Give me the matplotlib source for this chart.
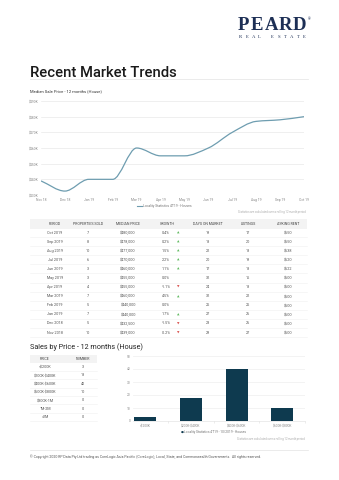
import matplotlib
matplotlib.use("Agg")
import matplotlib.pyplot as plt
import numpy as np
from matplotlib.path import Path
from matplotlib.patches import PathPatch, Rectangle
from matplotlib.lines import Line2D

# ---------------- data ----------------
months = ["Nov 18", "Dec 18", "Jan 19", "Feb 19", "Mar 19", "Apr 19",
          "May 19", "Jun 19", "Jul 19", "Aug 19", "Sep 19", "Oct 19"]
median_price = [439000, 432500, 440000, 440000, 460000, 455000,
                455000, 460000, 470000, 477000, 478000, 480000]
y_ticks = [430000, 440000, 450000, 460000, 470000, 480000, 490000]

table_header = ["PERIOD", "PROPERTIES SOLD", "MEDIAN PRICE", "GROWTH",
                "DAYS ON MARKET", "LISTINGS", "ASKING RENT"]
periods = ["Oct 2019", "Sep 2019", "Aug 2019", "Jul 2019", "Jun 2019", "May 2019",
           "Apr 2019", "Mar 2019", "Feb 2019", "Jan 2019", "Dec 2018", "Nov 2018"]
props_sold = [7, 8, 10, 6, 3, 3, 4, 7, 5, 7, 5, 10]
median_str = ["$480,000", "$478,000", "$477,000", "$470,000", "$460,000", "$455,000",
              "$455,000", "$460,000", "$440,000", "$440,000", "$432,500", "$439,000"]
growth = ["0.4%", "0.2%", "1.5%", "2.2%", "1.1%", "0.0%",
          "-1.1%", "4.5%", "0.0%", "1.7%", "-1.5%", "-0.2%"]
days_on_market = [19, 18, 22, 20, 17, 32, 24, 32, 25, 27, 28, 29]
listings = [17, 20, 18, 19, 18, 15, 18, 22, 25, 26, 26, 27]
asking_rent = ["$650", "$650", "$638", "$620", "$622", "$600",
               "$600", "$600", "$600", "$600", "$600", "$600"]

price_ranges = ["<$200K", "$200K-$400K", "$400K-$600K", "$600K-$800K",
                "$800K-1M", "1M-2M", ">2M"]
price_counts = [3, 18, 40, 10, 0, 0, 0]
bar_labels = ["<$200K", "$200K-$400K", "$400K-$600K", "$600K-$800K"]
bar_values = [3, 18, 40, 10]

# ---------------- figure ----------------
plt.rcParams["text.parse_math"] = False
plt.rcParams["font.family"] = ["Roboto", "DejaVu Sans"]
W, H = 339, 480
fig = plt.figure(figsize=(W / 100, H / 100), dpi=100)
fig.patch.set_facecolor("white")

def fx(x):
    return x / W

def fy(y):
    return 1 - y / H

def ftext(x, y, s, **kw):
    kw.setdefault("va", "center")
    fig.text(fx(x), fy(y), s, **kw)

def hline(x0, x1, y, color="#e6e6e6", lw=0.5):
    fig.add_artist(Line2D([fx(x0), fx(x1)], [fy(y), fy(y)], color=color, lw=lw,
                          transform=fig.transFigure))

NAVY = "#1d2f55"
TXT = "#555555"
LINEC = "#6e9db0"
BARC = "#0e3a4f"

# logo
for i, ch in enumerate("PEARD"):
    ftext(243 + i * 14.2, 25, ch, ha="center", fontsize=13.5, color=NAVY,
          family="Liberation Serif", fontweight="bold")
ftext(309, 19, "®", ha="center", fontsize=2.5, color=NAVY)
for i, ch in enumerate("REAL ESTATE"):
    ftext(240.5 + i * 6.4, 37.5, ch, ha="center", fontsize=3.4, color=NAVY,
          family="Liberation Serif")

# title
ftext(30, 73, "Recent Market Trends", ha="left", fontsize=10.6, color="#1a1a1a",
      fontweight="medium")
hline(30, 308, 79, color="#e8e8e8", lw=0.6)

ftext(30, 91, "Median Sale Price - 12 months (House)", ha="left", fontsize=3.0,
      color="#333333")

# ---------------- line chart ----------------
axl = fig.add_axes([fx(41), fy(195), fx(304) - fx(41), fy(101) - fy(195)])
xs = np.arange(len(median_price), dtype=float)
ys = np.array(median_price, dtype=float)

# monotone cubic (Fritsch-Carlson) tangents for a smooth bezier path
d = np.diff(ys) / np.diff(xs)
m = np.zeros_like(ys)
m[0], m[-1] = d[0], d[-1]
for k in range(1, len(ys) - 1):
    if d[k - 1] * d[k] <= 0:
        m[k] = 0
    else:
        m[k] = 2 / (1 / d[k - 1] + 1 / d[k])
verts = [(xs[0], ys[0])]
codes = [Path.MOVETO]
for k in range(len(xs) - 1):
    h = xs[k + 1] - xs[k]
    verts += [(xs[k] + h / 3, ys[k] + m[k] * h / 3),
              (xs[k + 1] - h / 3, ys[k + 1] - m[k + 1] * h / 3),
              (xs[k + 1], ys[k + 1])]
    codes += [Path.CURVE4] * 3
axl.add_patch(PathPatch(Path(verts, codes), fill=False, edgecolor=LINEC, lw=0.9))
axl.set_xlim(0, 11)
axl.set_ylim(y_ticks[0], y_ticks[-1])
axl.set_yticks(y_ticks)
axl.set_yticklabels([f"${v // 1000}K" for v in y_ticks])
axl.set_xticks(xs)
axl.set_xticklabels(months)
axl.tick_params(labelsize=2.4, colors="#888888", length=0, pad=2)
axl.grid(axis="y", color="#e9e9e9", lw=0.5)
for s in axl.spines.values():
    s.set_visible(False)
axl.set_axisbelow(True)

# legend for line chart
fig.add_artist(Line2D([fx(137), fx(142)], [fy(206), fy(206)], color=LINEC, lw=0.8,
                      transform=fig.transFigure))
ftext(143, 206, "Locality Statistics 4T19 - Houses", ha="left", fontsize=2.4, color="#777777")
ftext(306, 212, "Statistics are calculated over a rolling 12 month period", ha="right",
      fontsize=2.0, color="#aaaaaa")

# ---------------- main table ----------------
col_x = [55, 88, 128, 167, 208, 248, 288]
fig.add_artist(Rectangle((fx(30), fy(229)), fx(307) - fx(30), fy(219) - fy(229),
                         transform=fig.transFigure, facecolor="#f3f3f3", edgecolor="none"))
for cx, h in zip(col_x, table_header):
    ftext(cx, 224, h, ha="center", fontsize=2.6, color="#444444")
row_y0, row_dy = 232.5, 9.1
for i in range(len(periods)):
    yy = row_y0 + i * row_dy
    vals = [periods[i], str(props_sold[i]), median_str[i], None,
            str(days_on_market[i]), str(listings[i]), asking_rent[i]]
    for j, v in enumerate(vals):
        if v is None:
            continue
        ftext(col_x[j], yy, v, ha="center", fontsize=2.7, color=TXT)
    g = growth[i]
    ftext(col_x[3] - 1, yy, g, ha="center", fontsize=2.7, color=TXT)
    val = float(g.rstrip("%"))
    if val > 0:
        ftext(178, yy, "▲", ha="center", fontsize=2.3, color="#5cb85c", family="DejaVu Sans")
    elif val < 0:
        ftext(178, yy, "▼", ha="center", fontsize=2.3, color="#d9534f", family="DejaVu Sans")
    hline(30, 307, yy + 4.5, color="#efefef", lw=0.4)

# ---------------- sales by price ----------------
ftext(30, 347, "Sales by Price - 12 months (House)", ha="left", fontsize=5.2, color="#222222")
fig.add_artist(Rectangle((fx(30), fy(363)), fx(97) - fx(30), fy(355) - fy(363),
                         transform=fig.transFigure, facecolor="#f3f3f3", edgecolor="none"))
ftext(45, 359, "PRICE", ha="center", fontsize=2.6, color="#444444")
ftext(83, 359, "NUMBER", ha="center", fontsize=2.6, color="#444444")
for i, (pr, n) in enumerate(zip(price_ranges, price_counts)):
    yy = 367 + i * 8.3
    ftext(45, yy, pr, ha="center", fontsize=2.7, color=TXT)
    ftext(83, yy, str(n), ha="center", fontsize=2.7, color=TXT)
    hline(30, 97, yy + 4.1, color="#efefef", lw=0.4)

axb = fig.add_axes([fx(133), fy(421), fx(305) - fx(133), fy(356) - fy(421)])
bx = np.arange(len(bar_values))
axb.bar(bx, bar_values, width=0.48, color=BARC)
axb.set_xlim(-0.27, 3.5)
axb.set_ylim(0, 50)
axb.set_yticks([0, 10, 20, 30, 40, 50])
axb.set_xticks(bx)
axb.set_xticklabels(bar_labels)
axb.set_xticks([0.5, 1.5, 2.5, 3.5], minor=True)
axb.tick_params(labelsize=2.3, colors="#888888", length=0, pad=2)
axb.tick_params(axis="x", which="minor", length=1.5, color="#dddddd", width=0.4)
axb.grid(axis="y", color="#eeeeee", lw=0.5)
for s in axb.spines.values():
    s.set_visible(False)
axb.spines["bottom"].set_visible(True)
axb.spines["bottom"].set_color("#dddddd")
axb.spines["bottom"].set_linewidth(0.4)
axb.set_axisbelow(True)

ftext(182, 432, "●", ha="center", fontsize=2.4, color=BARC, family="DejaVu Sans")
ftext(184.5, 432, "Locality Statistics 4T19 - 10/2019 - Houses", ha="left",
      fontsize=2.3, color="#777777")
ftext(305, 439, "Statistics are calculated over a rolling 12 month period", ha="right",
      fontsize=2.0, color="#aaaaaa")

# footer
hline(30, 308, 450, color="#e3e3e3", lw=0.5)
ftext(30, 457, "© Copyright 2020 RP Data Pty Ltd trading as CoreLogic Asia Pacific (CoreLogic), "
      "Local, State, and Commonwealth Governments.  All rights reserved.",
      ha="left", fontsize=2.55, color="#555555")

fig.savefig("out.png", dpi=100, facecolor="white")
